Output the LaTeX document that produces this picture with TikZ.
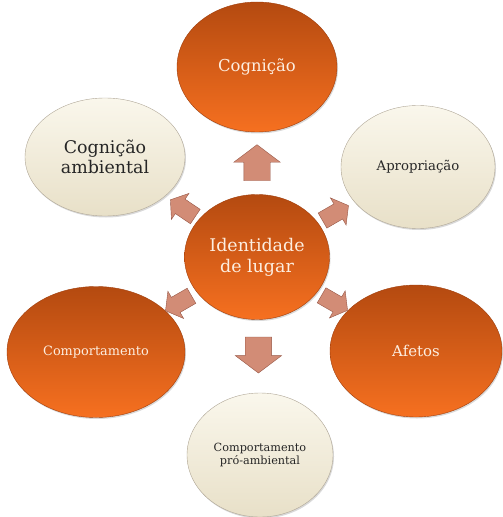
\documentclass[tikz,border=0pt]{standalone}
\usepackage{fontspec}
\setmainfont{DejaVu Serif}
\usepackage{pgf, tikz}
\usetikzlibrary{shapes.geometric, shapes.arrows, shadows, calc}

\definecolor{laranjaTopo}{RGB}{180,74,16}
\definecolor{laranjaBase}{RGB}{246,112,32}
\definecolor{laranjaBorda}{RGB}{160,62,12}
\definecolor{cremeTopo}{RGB}{250,247,236}
\definecolor{cremeBase}{RGB}{232,224,200}
\definecolor{cremeBorda}{RGB}{175,166,150}
\definecolor{setaCor}{RGB}{210,140,118}
\definecolor{setaBorda}{RGB}{150,85,68}
\definecolor{textoClaro}{RGB}{253,238,224}

\begin{document}
\begin{tikzpicture}[
            x = 1bp, y = -1bp, % pixel units, y going down
            semithick
        ]

        \tikzstyle{bolha}=[
            ellipse,
            inner sep = 0pt,
            align = center,
            drop shadow = {shadow xshift=1bp, shadow yshift=-1.5bp, opacity=0.3}
        ]
        \tikzstyle{laranja}=[
            bolha,
            draw = laranjaBorda,
            thin,
            top color = laranjaTopo,
            bottom color = laranjaBase,
            text = textoClaro
        ]
        \tikzstyle{creme}=[
            bolha,
            draw = cremeBorda,
            thin,
            top color = cremeTopo,
            bottom color = cremeBase,
            text = black!85
        ]
        \tikzstyle{seta}=[
            single arrow,
            inner sep = 0pt,
            single arrow head indent = 0pt,
            single arrow tip angle = 106,
            fill = setaCor,
            draw = setaBorda,
            thin
        ]
        \tikzstyle{setagrande}=[seta, text height = 26bp, text depth = 0pt,
            single arrow head extend = 10bp, minimum height = 36bp]
        \tikzstyle{setapequena}=[seta, text height = 17bp, text depth = 0pt,
            single arrow head extend = 7bp, minimum height = 30bp]

        \useasboundingbox (0,0) rectangle (503,517);

        \node (id) [laranja, minimum width=145bp, minimum height=125bp,
            font=\fontsize{17.5}{21}\selectfont] at (257,257) {Identidade\\de lugar};
        \node (cog) [laranja, minimum width=160bp, minimum height=130bp,
            font=\fontsize{16.5}{19}\selectfont] at (257,67) {Cognição};
        \node (amb) [creme, minimum width=160bp, minimum height=118bp,
            font=\fontsize{17.5}{20}\selectfont] at (105,157) {Cognição\\ambiental};
        \node (apr) [creme, minimum width=154bp, minimum height=123bp,
            font=\fontsize{13.3}{16}\selectfont] at (418,167) {Apropriação};
        \node (comp) [laranja, minimum width=178bp, minimum height=131bp,
            font=\fontsize{12.9}{15}\selectfont] at (96,352) {Comportamento};
        \node (afe) [laranja, minimum width=172bp, minimum height=132bp,
            font=\fontsize{15}{17}\selectfont] at (416,351) {Afetos};
        \node (pro) [creme, minimum width=146bp, minimum height=124bp,
            font=\fontsize{11.3}{14}\selectfont] at (260,455) {Comportamento\\pró-ambiental};

        \node (s1) [setagrande, rotate=90] at ($(id)!0.47!(cog)$) {};
        \node (s2) [setagrande, rotate=-90] at ($(id)!0.47!(pro)$) {};
        \node (s3) [setapequena, rotate=146] at ($(id)!0.47!(amb)$) {};
        \node (s4) [setapequena, rotate=30] at ($(id)!0.47!(apr)$) {};
        \node (s5) [setapequena, rotate=210] at ($(id)!0.47!(comp)$) {};
        \node (s6) [setapequena, rotate=-30] at ($(id)!0.47!(afe)$) {};

    \end{tikzpicture}
\end{document}
